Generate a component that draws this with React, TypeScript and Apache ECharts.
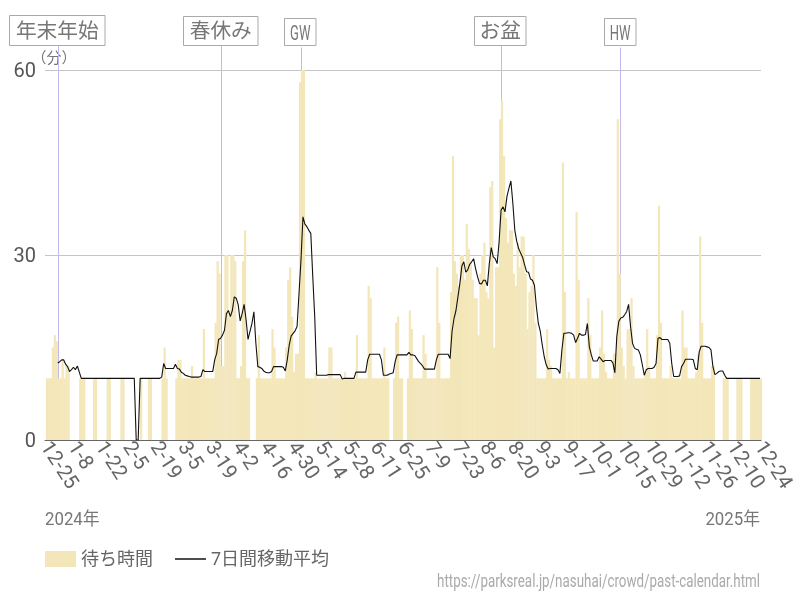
import React, { useEffect, useRef } from "react";
import * as echarts from "echarts";

const n = null;
// Waiting time per day (first slot of the tick axis carries no bar).
const waits = [
  n,
  10,10,10,15,17,16,10,10,13,10,
  12,12,n,n,n,n,n,10,10,10,
  n,n,n,n,10,10,n,n,n,n,
  n,10,10,n,n,n,n,n,10,10,
  n,n,n,n,n,n,n,n,10,n,
  n,n,10,10,n,n,n,n,n,10,
  15,10,n,n,n,n,10,13,13,10,
  10,10,10,10,12,10,10,10,10,10,
  18,10,10,10,10,10,19,29,27,12,
  12,30,30,20,30,30,29,10,10,12,
  29,34,10,10,n,n,n,10,17,10,
  10,10,10,10,10,18,15,10,10,10,
  10,10,15,26,28,20,11,14,14,58,
  60,60,10,10,10,10,10,11,10,10,
  10,10,10,10,15,15,10,10,10,10,
  10,10,11,10,10,10,10,10,17,10,
  10,10,10,10,25,23,10,10,10,10,
  10,10,15,10,10,n,n,10,19,20,
  10,10,n,n,10,21,18,10,10,10,
  10,10,17,14,10,10,10,10,10,28,
  19,10,10,10,10,10,24,46,29,27,
  25,30,30,26,35,31,29,26,23,23,
  17,27,30,32,24,23,41,42,15,28,
  28,52,55,46,36,32,34,34,27,25,
  32,28,33,33,27,18,24,25,30,19,
  10,10,10,10,10,18,13,12,10,10,
  10,10,10,45,24,10,11,10,10,10,
  37,26,10,10,10,10,23,17,10,10,
  10,10,15,21,14,11,10,10,10,14,
  14,52,27,15,12,10,18,18,23,12,
  10,10,10,10,10,11,18,12,10,10,
  10,17,38,19,10,10,10,10,12,10,
  10,10,10,10,21,15,15,10,10,10,
  10,11,14,33,19,10,10,10,10,12,
  12,n,n,n,n,10,10,10,n,n,
  n,n,10,10,10,n,n,n,n,10,
  10,10,10,10,10,
];

// 7-day moving average.
const average = [
  n,n,n,n,n,n,12.5,12.7,13,13,
  12.3,11.9,11.1,11.4,11.8,11.4,12,11,10,10,
  10,10,10,10,10,10,10,10,10,10,
  10,10,10,10,10,10,10,10,10,10,
  10,10,10,10,10,10,0,0,10,10,
  10,10,10,10,10,10,10,10,10,10.2,
  12.4,11.6,11.6,11.6,11.6,11.6,12.3,11.6,11.5,11,
  10.8,10.5,10.4,10.3,10.2,10.2,10.2,10.2,10.2,10.3,
  11.4,11.1,11.1,11.1,11.1,11.1,13,14,16.3,16.5,
  17,17.8,20.5,21,20,21,23.2,23,21.9,19.3,
  20.5,22,19.5,16.3,17.6,18.9,20.8,15.7,11.9,11.8,
  11.6,11.2,11,10.9,10.9,11.1,11.9,11.9,11.9,11.9,
  11.9,11.8,11.2,13,15.4,16.9,17.3,17.7,18.4,23.8,
  29.2,36.2,35,34.6,34,33.5,26.5,20,10.5,10.5,
  10.5,10.5,10.5,10.5,10.6,10.6,10.6,10.6,10.6,10.6,
  10.6,9.9,10,10,10,10,10,10,11,11,
  11,11,11,11,13,13.9,13.9,13.9,13.9,13.9,
  13.9,13,10.5,10.5,10.5,10.7,10.8,10.9,12.7,13.8,
  13.8,13.8,13.8,13.8,13.8,14.2,13.8,13.8,13.7,13.2,
  12.7,12.4,12,11.5,11.5,11.5,11.5,11.5,11.5,13,
  13.9,13.9,13.9,13.9,13.9,13.9,13.2,17.6,19.7,21,
  23.2,25.4,28.2,28.9,27.2,27.6,28.5,28.9,29.4,27.8,
  26.5,25.4,25.3,25.9,25.9,25,28.6,31.2,29.7,29.4,
  28.6,32.2,37.3,37.8,37,39.5,40.8,42,38.4,34,
  32.2,31,30.3,29.6,28.4,27.3,27.2,26.1,25.9,25.1,
  21.6,18.9,17.6,15.4,13.5,12.2,11.5,11.6,11.6,11.6,
  11.6,11.4,10.8,14.6,17.3,17.3,17.4,17.4,17.3,17,
  15.8,16.5,17.3,17,17,17.1,18.9,15.1,13.8,12.8,
  12.8,12.8,13.5,13.1,12.7,12.9,12.9,12.9,12.9,12.5,
  10.9,16.8,19.2,19.8,19.9,20.3,20.8,22,18.4,15.7,
  14.9,14.7,14.6,13.8,12.2,10.5,11.4,11.6,11.6,11.6,
  11.8,12.4,16.5,16.6,16.3,16.3,16.3,16.3,15.7,12.4,
  10.3,10.3,10.3,10.4,11.9,12.4,13.1,13.1,13.1,13.1,
  13,11.6,11.4,14.3,15.2,15.2,15.2,15.1,15,14.6,
  11.9,10.6,10.8,11.1,11.2,11.2,10.5,10,10,10,
  10,10,10,10,10,10,10,10,10,10,
  10,10,10,10,10,
];

const tickLabels = [
  "12-25","1-8","1-22","2-5","2-19","3-5","3-19","4-2","4-16","4-30",
  "5-14","5-28","6-11","6-25","7-9","7-23","8-6","8-20","9-3","9-17",
  "10-1","10-15","10-29","11-12","11-26","12-10","12-24",
];
const seasons = [
  { label: "年末年始", line: 58, left: 9.5, right: 105, top: 15.5 },
  { label: "春休み", line: 221, left: 183.5, right: 258, top: 16.5 },
  { label: "GW", line: 301, left: 284.5, right: 316, top: 18.5 },
  { label: "お盆", line: 501, left: 474.5, right: 526, top: 16.5 },
  { label: "HW", line: 620, left: 604.5, right: 636, top: 18.5 },
];

const REG = 'Roboto, "Noto Sans CJK JP"';

export default function App() {
  const ref = useRef<HTMLDivElement>(null);
  useEffect(() => {
    const chart = echarts.init(ref.current!, undefined, { renderer: "svg" });
    const days = average.map((_, i) => (i % 14 === 0 ? tickLabels[i / 14] : ""));
    const slots = waits.map((_, i) => String(i));
    const graphic: any[] = [];
    seasons.forEach((s) => {
      const latin = s.label.endsWith("W");
      graphic.push({
        type: "line",
        z: 1,
        shape: { x1: s.line + 0.5, y1: s.top + 29, x2: s.line + 0.5, y2: 440 },
        style: { stroke: "#c4b8ee", lineWidth: 1 },
      });
      graphic.push({
        type: "rect",
        z: 5,
        shape: { x: s.left, y: s.top, width: s.right - s.left, height: 45.5 - s.top },
        style: { fill: "#fff", stroke: "#aaa", lineWidth: 1 },
      });
      graphic.push({
        type: "text",
        z: 6,
        x: (s.left + s.right) / 2,
        y: (s.top + 45.5) / 2 + (latin ? 0.5 : 0),
        scaleX: latin ? 0.62 : 1,
        style: {
          text: s.label,
          fill: "#777",
          font: `${latin ? 21 : 20.7}px ${REG}`,
          align: "center",
          verticalAlign: "middle",
        },
      });
    });
    graphic.push(
      { type: "text", x: 54, y: 58, style: { text: "（分）", fill: "#777", font: `15px ${REG}`, align: "center", verticalAlign: "middle" } },
      { type: "text", x: 45, y: 519, scaleX: 0.9, style: { text: "2024年", fill: "#777", font: `18.7px ${REG}`, align: "left", verticalAlign: "middle" } },
      { type: "text", x: 760, y: 519, scaleX: 0.9, style: { text: "2025年", fill: "#777", font: `18.7px ${REG}`, align: "right", verticalAlign: "middle" } },
      { type: "text", x: 760, y: 581, scaleX: 0.743, style: { text: "https://parksreal.jp/nasuhai/crowd/past-calendar.html", fill: "#aaa", font: `18px ${REG}`, align: "right", verticalAlign: "middle" } },
    );
    chart.setOption({
      animation: false,
      grid: { left: 45, right: 39, top: 70, bottom: 160, outerBoundsMode: "none" },
      xAxis: [
        {
          type: "category",
          data: days,
          boundaryGap: true,
          axisTick: { show: false },
          axisLine: { show: true, lineStyle: { color: "#666", width: 1 } },
          axisLabel: {
            interval: 0,
            rotate: -57,
            margin: 3,
            color: "#666",
            fontFamily: REG,
            fontSize: 20.5,
            lineHeight: 27,
            hideOverlap: false,
          },
          splitLine: { show: false },
        },
        { type: "category", data: slots, boundaryGap: false, show: false },
      ],
      yAxis: {
        type: "value",
        min: 0,
        max: 60,
        interval: 30,
        axisLine: { show: false },
        axisTick: { show: false },
        axisLabel: { color: "#555", fontFamily: REG, fontSize: 20, margin: 9 },
        splitLine: { lineStyle: { color: "#c4c4c4", width: 1 } },
      },
      legend: {
        left: 45,
        top: 550,
        padding: 0,
        itemWidth: 31,
        itemHeight: 16,
        itemGap: 22,
        textStyle: { color: "#666", fontFamily: REG, fontSize: 18 },
        data: [
          { name: "待ち時間", icon: "rect" },
          { name: "7日間移動平均", icon: "path://M0,0H31V1.4H0Z" },
        ],
      },
      series: [
        {
          name: "待ち時間",
          type: "bar",
          xAxisIndex: 1,
          data: waits,
          barWidth: 2.2,
          clip: false,
          z: 2,
          itemStyle: { color: "#f3e6b8" },
        },
        {
          name: "7日間移動平均",
          type: "line",
          xAxisIndex: 0,
          data: average,
          symbol: "none",
          z: 3,
          itemStyle: { color: "#000" },
          lineStyle: { color: "#111", width: 1.1 },
        },
      ],
      graphic,
    });
    return () => chart.dispose();
  }, []);
  return <div ref={ref} style={{ position: "fixed", left: 0, top: 0, width: 800, height: 600 }} />;
}
